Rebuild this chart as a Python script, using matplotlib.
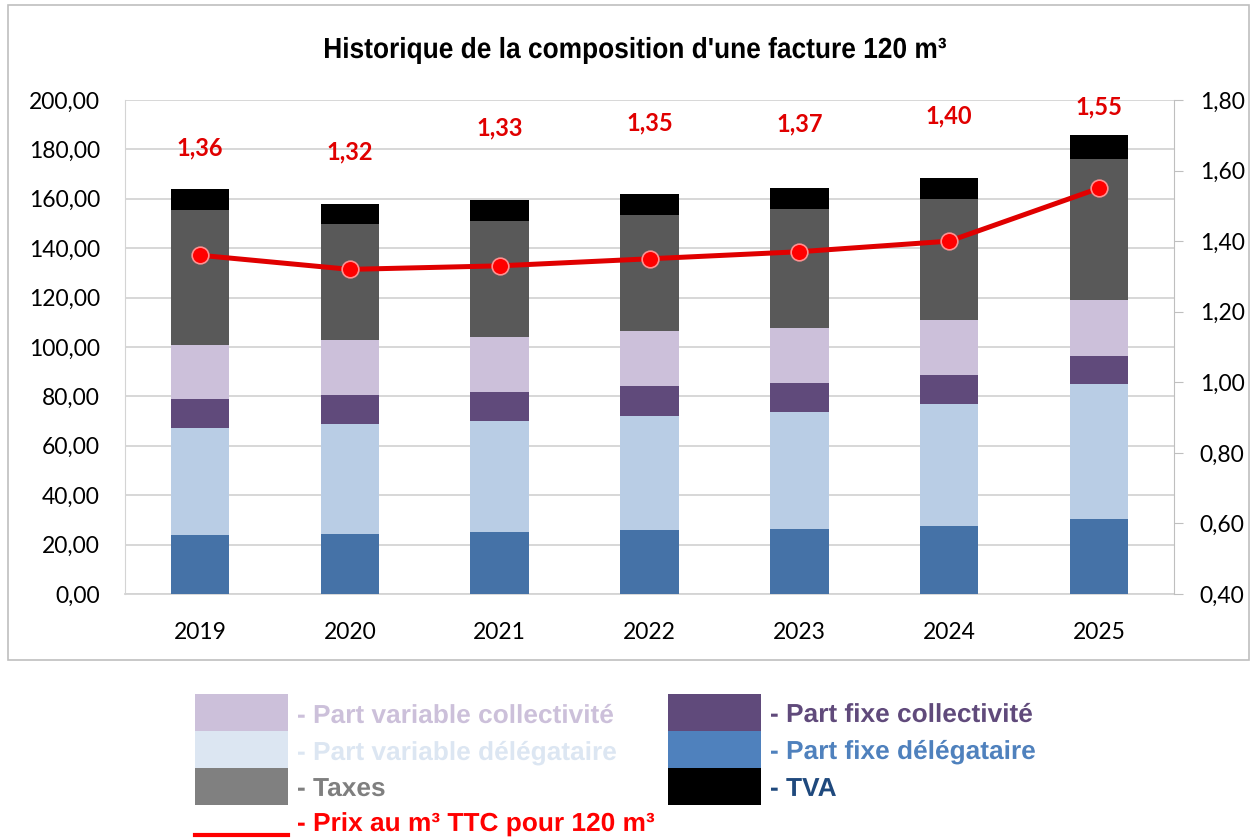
import matplotlib
matplotlib.use("Agg")
import matplotlib.pyplot as plt
from matplotlib.patches import Rectangle, PathPatch
from matplotlib.lines import Line2D
from matplotlib.textpath import TextPath
from matplotlib.font_manager import FontProperties
from matplotlib.transforms import Affine2D, IdentityTransform
import numpy as np

# données
annees = ['2019', '2020', '2021', '2022', '2023', '2024', '2025']
part_fixe_delegataire = [24.0, 24.4, 25.0, 25.9, 26.3, 27.5, 30.2]
part_variable_delegataire = [43.2, 44.3, 44.9, 46.2, 47.3, 49.3, 54.7]
part_fixe_collectivite = [11.8, 11.7, 12.0, 12.0, 11.9, 11.7, 11.6]
part_variable_collectivite = [22.0, 22.4, 22.3, 22.3, 22.3, 22.4, 22.5]
taxes = [54.5, 47.0, 46.7, 47.0, 48.1, 48.9, 57.2]
tva = [8.5, 8.1, 8.6, 8.5, 8.5, 8.7, 9.8]
prix_m3 = [1.36, 1.32, 1.33, 1.35, 1.37, 1.40, 1.55]

# hauteur des étiquettes (axe de droite), comme placées dans l'original
etiquette_y = [1.665, 1.653, 1.72, 1.735, 1.732, 1.755, 1.78]

fmt = lambda v: ('%.2f' % v).replace('.', ',')

W, H = 1250, 838
fig = plt.figure(figsize=(W / 100, H / 100), dpi=100)
fig.patch.set_facecolor('white')


def texte_etroit(s, x, y, em, sx, color, weight='normal'):
    # texte "Arial Narrow" simulé : Liberation Sans comprimé en largeur
    # x, y en pixels depuis le coin haut-gauche, y = milieu des capitales
    fp = FontProperties(family='Liberation Sans', weight=weight)
    tp = TextPath((0, 0), s, size=em, prop=fp)
    ext = tp.get_extents()
    cap = 0.688 * em
    tr = Affine2D().scale(sx, 1).translate(x - ext.x0 * sx, H - (y + cap / 2))
    fig.add_artist(PathPatch(tr.transform_path(tp), facecolor=color,
                             edgecolor='none', transform=IdentityTransform()))


def largeur(s, em, weight='normal'):
    fp = FontProperties(family='Liberation Sans', weight=weight)
    return TextPath((0, 0), s, size=em, prop=fp).get_extents().width


# cadre du graphique
fig.add_artist(Rectangle((8 / W, 1 - 660 / H), (1249 - 8) / W, (660 - 5) / H,
                         transform=fig.transFigure, fill=False,
                         edgecolor='#BFBFBF', linewidth=1.2))

ax = fig.add_axes([125 / W, 1 - 594 / H, (1174 - 125) / W, (594 - 100) / H])
ax2 = ax.twinx()

x = np.arange(len(annees))
series = [
    (part_fixe_delegataire, '#4572A7'),
    (part_variable_delegataire, '#B9CDE5'),
    (part_fixe_collectivite, '#604A7B'),
    (part_variable_collectivite, '#CCC0DA'),
    (taxes, '#595959'),
    (tva, '#000000'),
]
bottom = np.zeros(len(annees))
for vals, col in series:
    ax.bar(x, vals, 0.39, bottom=bottom, color=col, zorder=3)
    bottom += np.array(vals)

ax.set_xlim(-0.5, len(annees) - 0.5)
ax.set_ylim(0, 200)
ax.set_yticks(np.arange(0, 201, 20))
ax.set_yticklabels([fmt(v) for v in np.arange(0, 201, 20)])
ax.set_xticks(x)
ax.set_xticklabels(annees)
ax.grid(axis='y', color='#D4D4D4', linewidth=1.3, zorder=0)
ax.set_axisbelow(True)
ax.tick_params(axis='y', length=0, pad=18, labelsize=16.5, labelcolor='#000000')
ax.tick_params(axis='x', length=0, pad=20, labelsize=16.5)
ax.spines['top'].set_visible(False)
ax.spines['right'].set_visible(False)
ax.spines['left'].set_color('#D4D4D4')
ax.spines['bottom'].set_color('#D4D4D4')
ax.spines['bottom'].set_linewidth(1.3)
for lab in ax.get_xticklabels() + ax.get_yticklabels():
    lab.set_family(['Lato', 'DejaVu Sans'])

ax2.plot(x, prix_m3, color='#E00000', linewidth=3.6, marker='o',
         markersize=12, markerfacecolor='#FF0000', markeredgecolor='#FF9090',
         markeredgewidth=1.2, zorder=5)
ax2.set_ylim(0.40, 1.80)
ax2.set_yticks(np.arange(0.40, 1.81, 0.20))
ax2.set_yticklabels([fmt(v) for v in np.arange(0.40, 1.81, 0.20)])
ax2.tick_params(axis='y', length=6.5, color='#BFBFBF', pad=12, labelsize=16.5)
for lab in ax2.get_yticklabels():
    lab.set_family(['Lato', 'DejaVu Sans'])
for s in ['top', 'left', 'bottom']:
    ax2.spines[s].set_visible(False)
ax2.spines['right'].set_color('#BFBFBF')

for xi, v, yl in zip(x, prix_m3, etiquette_y):
    ax2.text(xi, yl, fmt(v), ha='center', va='center', color='#E00000',
             fontsize=17, fontweight='bold', family=['Lato', 'DejaVu Sans'])

# titre
titre = "Historique de la composition d'une facture 120 m³"
em_t = 29
texte_etroit(titre, 325, 48, em_t, 621 / largeur(titre, em_t, 'bold'),
             '#000000', 'bold')

# légende (dessinée à part, sous le cadre)
em_l = 26
sx_l = 315 / largeur('- Part variable collectivité', em_l, 'bold')
leg = [
    (195, 694, '#CCC0DA', '- Part variable collectivité', '#CCC0DA', 714),
    (195, 731, '#DCE6F2', '- Part variable délégataire', '#DCE6F2', 751),
    (195, 768, '#808080', '- Taxes', '#7F7F7F', 787),
    (668, 694, '#604A7B', '- Part fixe collectivité', '#604A7B', 713),
    (668, 731, '#4F81BD', '- Part fixe délégataire', '#4F81BD', 750),
    (668, 768, '#000000', '- TVA', '#1F497D', 787),
]
pw, ph = 93, 37
for px, py, fc, txt, tc, ty in leg:
    fig.add_artist(Rectangle((px / W, 1 - (py + ph) / H), pw / W, ph / H,
                             transform=fig.transFigure, facecolor=fc,
                             edgecolor='none'))
    texte_etroit(txt, px + pw + 10, ty, em_l, sx_l, tc, 'bold')
fig.add_artist(Line2D([195 / W, (195 + pw) / W], [1 - 835 / H, 1 - 835 / H],
                      transform=fig.transFigure, color='#FF0000', linewidth=3))
texte_etroit('- Prix au m³ TTC pour 120 m³', 298, 822, em_l, sx_l, '#FF0000', 'bold')

fig.savefig('out.png', dpi=100)
